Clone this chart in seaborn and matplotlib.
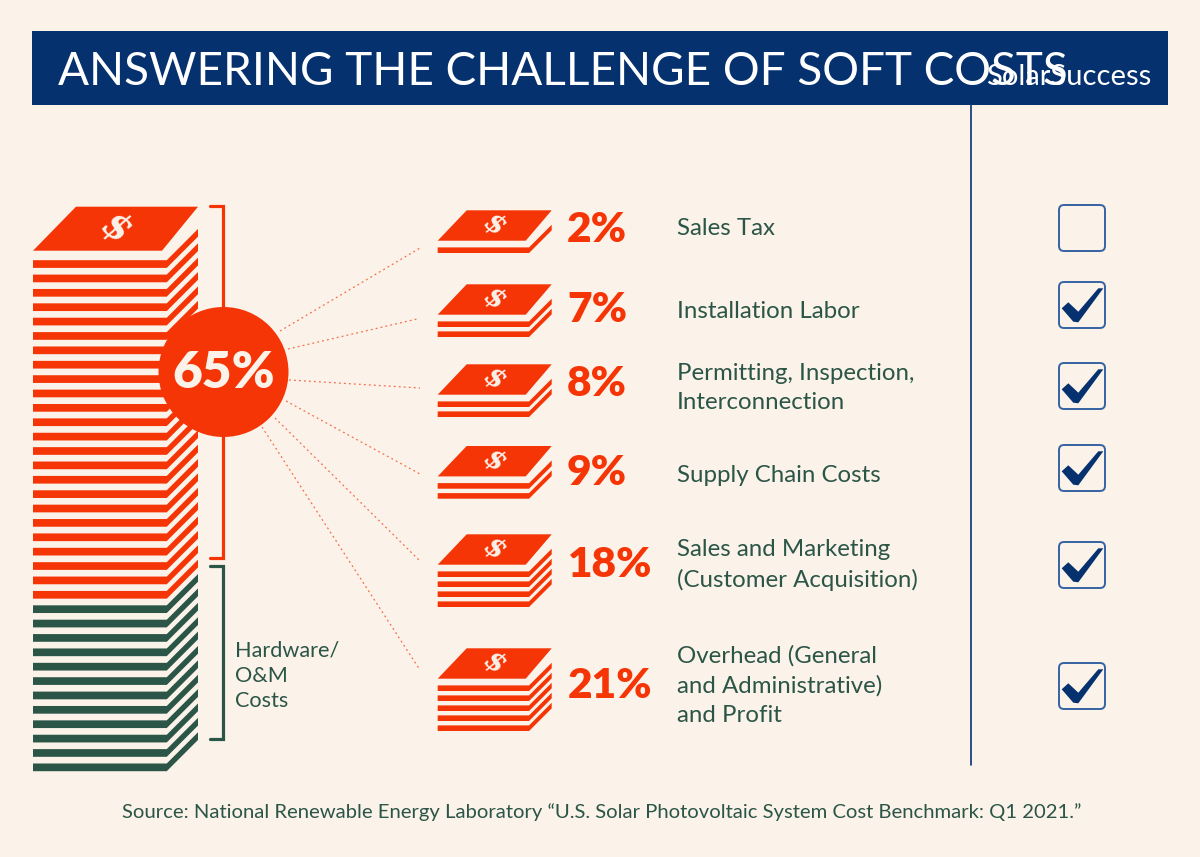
import matplotlib
matplotlib.use('Agg')
import matplotlib.pyplot as plt
import seaborn as sns
from matplotlib.patches import Circle, FancyBboxPatch, Rectangle

# values
pct_values = [2, 7, 8, 9, 18, 21]
layer_counts = [1, 2, 2, 2, 4, 5]
checked = [False, True, True, True, True, True]
cost_labels = ['Sales Tax', 'Installation Labor', 'Permitting, Inspection,\nInterconnection',
               'Supply Chain Costs', 'Sales and Marketing\n(Customer Acquisition)',
               'Overhead (General\nand Administrative)\nand Profit']
soft_share = 65
soft_layers = 24
hardware_layers = 12

BG = '#fbf2e9'
ORANGE = '#f53506'
GREEN = '#2b5546'
NAVY = '#06316f'
BOX = '#3563a3'
FONT = 'Lato'

stack_tops = [210.3, 284.3, 364.3, 446, 534.3, 648.3]
text_y = [228.5, 311.5, 388, 475.5, 565, 685.5]
pct_y = [230, 310, 384, 473, 565, 686]
box_y = [228, 305, 386, 468, 565, 686]
leaders = [((280, 331), (420, 248)), ((288, 349), (417, 319)), ((289, 380), (420, 388)),
           ((286, 401), (420, 474)), ((275, 418), (420, 561)), ((262, 427), (420, 670))]


def draw_stack(ax, x0, top, back_left, right, width, depth_y, gap, height, period, layers, dollar_size):
    # top sheet with the dollar sign, then the stripes under it
    front = top + depth_y
    ax.fill([x0, back_left, right, x0 + width], [front, top, top, front],
            color=ORANGE, lw=0)
    y = front + gap
    edge = x0 + width + gap * 0.5
    for color, n in layers:
        for _ in range(n):
            rise = right - edge
            ax.fill([x0, edge, right, right, edge, x0],
                    [y, y, y - rise, y - rise + height, y + height, y + height],
                    color=color, lw=0)
            y += period
    ax.text((x0 + right) / 2, top + depth_y / 2, '$', color=BG, ha='center', va='center',
            family='DejaVu Serif', weight='bold', style='italic',
            fontsize=dollar_size, rotation=-38)


def draw_check(ax, cx, cy):
    xs = [-20.3, -13.7, -3.7, 16.3, 21.3, -3.7, -8.7]
    ys = [3.3, -2.7, 6.7, -16.7, -16.7, 17.3, 16.7]
    ax.fill([cx + v for v in xs], [cy + v for v in ys], color=NAVY, lw=0, zorder=3)


sns.set_theme(style='white')
plt.rcParams['font.family'] = [FONT, 'DejaVu Sans']

fig = plt.figure(figsize=(12, 8.57), dpi=100, facecolor=BG)
ax = fig.add_axes([0, 0, 1, 1])
ax.set_xlim(0, 1200)
ax.set_ylim(857, 0)
ax.set_axis_off()

# header
ax.add_patch(Rectangle((32, 31), 1136, 74, color=NAVY, lw=0))
ax.text(58, 85, 'ANSWERING THE CHALLENGE OF SOFT COSTS', color='white', fontsize=33,
        va='baseline', family=['Liberation Sans Narrow', 'Lato'])
ax.text(1151, 85, 'SolarSuccess', color='white', fontsize=21, ha='right', va='baseline')
ax.plot([971, 971], [105, 765], color=NAVY, lw=1.2)

# big stack
draw_stack(ax, 33, 206.7, 76, 198, 129, 44, 9.5, 7.7, 14.38,
           [(ORANGE, soft_layers), (GREEN, hardware_layers)], 27)

# brackets
ax.plot([210, 222.5, 222.5, 210], [206, 206, 558, 558], color=ORANGE, lw=2.3, solid_joinstyle='miter')
ax.plot([210, 222.5, 222.5, 210], [565.5, 565.5, 738.5, 738.5], color=GREEN, lw=2.3, solid_joinstyle='miter')
ax.text(235, 675.5, 'Hardware/\nO&M\nCosts', color=GREEN, fontsize=15.6, va='center', linespacing=1.33)

# leaders and the share circle
for start, end in leaders:
    sns.lineplot(x=[start[0], end[0]], y=[start[1], end[1]], ax=ax, color=ORANGE, lw=0.9,
                 linestyle=(0, (1.5, 2.5)), alpha=0.7, sort=False, estimator=None)
ax.add_patch(Circle((223.5, 372), 65, color=ORANGE, lw=0, zorder=3))
ax.text(223.5, 373, f'{soft_share}%', color=BG, fontsize=37, weight='heavy', ha='center', va='center', zorder=4)

# rows
for i, value in enumerate(pct_values):
    draw_stack(ax, 437.7, stack_tops[i], 466.7, 551.7, 88, 30.4, 6.7, 5.6, 10,
               [(ORANGE, layer_counts[i])], 20)
    ax.text(597 if value < 10 else 610.5, pct_y[i], f'{value}%', color=ORANGE, fontsize=30.5,
            weight='heavy', ha='center', va='center')
    ax.text(677, text_y[i], cost_labels[i], color=GREEN, fontsize=17.3, va='center', linespacing=1.51)
    ax.add_patch(FancyBboxPatch((1059 + 4, box_y[i] - 23 + 4), 38, 38,
                                boxstyle='round,pad=4,rounding_size=5', fc='none', ec=BOX, lw=1.4))
    if checked[i]:
        draw_check(ax, 1082, box_y[i])

ax.text(602, 812, 'Source: National Renewable Energy Laboratory \u201cU.S. Solar Photovoltaic System Cost Benchmark: Q1 2021.\u201d',
        color=GREEN, fontsize=14.6, ha='center', va='center')

fig.savefig('out.png', dpi=100, facecolor=BG)
